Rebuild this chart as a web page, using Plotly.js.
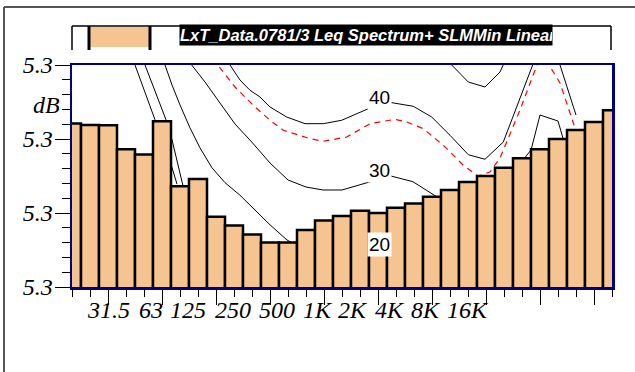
<!DOCTYPE html>
<html><head><meta charset="utf-8">
<script src="https://cdn.plot.ly/plotly-3.0.1.min.js"></script>
<style>html,body{margin:0;padding:0;background:#fff;}#chart{width:635px;height:372px;}</style>
</head><body><div id="chart"></div>
<script>
// ---- data ----
const bandIndex = [0,1,2,3,4,5,6,7,8,9,10,11,12,13,14,15,16,17,18,19,20,21,22,23,24,25,26,27,28,29,30];
const leqSpectrum = [32.1,31.9,31.85,28.6,27.9,32.4,23.6,24.6,19.5,18.3,17.1,16.0,16.0,17.7,19.0,19.6,20.3,20.0,20.7,21.3,22.2,23.1,24.2,25.0,26.1,27.4,28.6,30.0,31.2,32.3,33.9];
const freqLabels = ["31.5","63","125","250","500","1K","2K","4K","8K","16K"];
const yTickLabel = "5.3";
const legendName = "LxT_Data.0781/3 Leq Spectrum+ SLMMin Linear";
const contourLevels = [20, 30, 40];

const curveAx = [3.5,4.056,4.611,5.056,5.5,5.833];
const curveAy = [40,36.2,32.6,29.2,26.6,23.9];
const curveBx = [4.056,4.611,5.222,5.556,6.183];
const curveBy = [40,36.5,32.6,29.9,23.5];
const curve20x = [5.167,5.556,6,6.556,7.111,7.778,8.5,9.333,10.167,11,11.944,13.222,14.889];
const curve20y = [40,37.3,34.6,31.5,28.8,26.1,24.1,22.4,20.4,18.4,16.35,14.7,14.3];
const curve30x = [6.65,7.389,8.222,9.056,9.983,11,12,13,13.944,15,16.33,17.72,18.94,20.26,21.56,22.94,24.33,25.5,26,27,27.29,27.5];
const curve30y = [40,37.7,34.86,32.03,29.6,26.76,24.46,23.51,23.11,23.11,24.05,25,24.23,22.2,20.95,22.3,25,28.5,33.24,32.43,30,28.5];
const curve40x = [8.778,9.333,9.889,10.444,11,11.928,12.944,13.961,14.983,16.461,17.761,18.961,19.983,21,22.017,22.944,23.961,24.722,25.539,26.333,27.111,28];
const curve40y = [40,37.97,36.58,35.68,34.32,32.97,32.07,32.07,32.53,34.09,34.91,34.42,32.97,30.5,27.88,27.26,29.59,34.59,40,44.73,40,33.24];
const curve50x = [20.444,21.094,22.017,22.944,23.778,24.333];
const curve50y = [43.38,40,37.7,37.03,39.05,42.03];
const dashedX = [8.183,9.056,10.072,11,11.739,13.222,13.961,15.261,16.556,17.944,18.594,19.517,20.628,21.739,22.556,23.222,23.778,24.889,25.833,26.111,26.333,27.111,27.944];
const dashedY = [39.73,37.03,34.55,32.53,31.18,30.04,29.69,30.27,32.07,32.66,32.3,31.39,29.15,26.45,25,25.54,27.43,33.92,40,40.68,40.68,37.57,31.49];

// ---- layout helpers (pixel -> paper) ----
const L=72, R=612, T=65, B=287;
const px = v => (v-L)/(R-L);
const py = v => (B-v)/(B-T);
const serif = {family:'"Liberation Serif","Times New Roman",serif', size:24, color:'#000'};
const ital = s => '<i>'+s+'</i>';

const lineStyle = {color:'#000', width:1};
const traces = [
  {x:curveAx, y:curveAy},
  {x:curveBx, y:curveBy},
  {x:curve20x, y:curve20y},
  {x:curve30x, y:curve30y},
  {x:curve40x, y:curve40y},
  {x:curve50x, y:curve50y}
].map(c => ({type:'scatter', mode:'lines', x:c.x, y:c.y, line:lineStyle, hoverinfo:'skip', showlegend:false, xaxis:'x', yaxis:'y'}));
traces.push({type:'scatter', mode:'lines', x:dashedX, y:dashedY, line:{color:'#FF0000', width:1.2, dash:'6px,5px'}, showlegend:false, xaxis:'x', yaxis:'y'});
traces.push({type:'bar', x:bandIndex, y:leqSpectrum, width:1, xaxis:'x2', yaxis:'y',
  marker:{color:'#F5C491', line:{color:'#000', width:2.5}}, showlegend:false, name:legendName});

// label positions for frequency ticks (in band units)
const labelPos = [2.06,4.39,6.44,8.94,11.39,13.61,15.56,17.61,19.61,21.94];
const labelY = [15.8,25.74,35.6];

const annotations = contourLevels.map((lv,i)=>({
  x:17.06, y:labelY[i], xref:'x', yref:'y', text:String(lv), showarrow:false,
  font:{family:'"Liberation Sans",Arial,sans-serif', size:19, color:'#000'}, bgcolor:'#fff', borderpad:1
}));
annotations.push({x:px(46), y:py(104.5), xref:'paper', yref:'paper', xanchor:'center', yanchor:'middle', text:ital('dB'), showarrow:false, font:serif});
annotations.push({x:px(179), y:py(35), xref:'paper', yref:'paper', xanchor:'left', yanchor:'middle', text:'<b><i>'+legendName+'</i></b>',
  showarrow:false, bgcolor:'#000', borderpad:0, width:372, height:20, align:'left',
  font:{family:'"Liberation Sans",Arial,sans-serif', size:16.5, color:'#fff'}});

const shp = (x0,y0,x1,y1,o) => Object.assign({type:'line', xref:'paper', yref:'paper', x0:px(x0), y0:py(y0), x1:px(x1), y1:py(y1), line:{color:'#000', width:1.5}}, o||{});
const shapes = [
  shp(4,7,635,7,{line:{color:'#555',width:2}}),
  shp(4,7,4,372,{line:{color:'#555',width:2}}),
  shp(72,26,611,26),
  shp(72,26,72,50),
  shp(611,26,611,50),
  {type:'rect', xref:'paper', yref:'paper', x0:px(90), x1:px(150), y0:py(47), y1:py(27), fillcolor:'#F5C491', line:{width:0}},
  shp(89,26,89,50,{line:{color:'#000',width:3}}),
  shp(150,26,150,50,{line:{color:'#000',width:3}})
];

const layout = {
  width:635, height:372, margin:{l:L, r:635-R, t:T, b:372-B},
  paper_bgcolor:'#fff', plot_bgcolor:'#fff', showlegend:false, bargap:0,
  xaxis:{range:[0,30], showline:true, linecolor:'#000080', linewidth:2.5, mirror:true,
    ticks:'outside', tickvals:[2,5,8,11,14,17,20,23,26,29], ticklen:15, tickcolor:'#000', tickwidth:1,
    showticklabels:false, showgrid:false, zeroline:false,
    minor:{tick0:0, dtick:1, ticks:'outside', ticklen:7, tickcolor:'#000', tickwidth:1, showgrid:false}},
  xaxis2:{overlaying:'x', anchor:'y', side:'bottom', range:[0,30], tickvals:labelPos, ticktext:freqLabels.map(ital),
    ticks:'', showline:false, showgrid:false, zeroline:false, tickfont:serif, ticklabelstandoff:6},
  yaxis:{range:[10,40], showline:true, linecolor:'#000080', linewidth:2.5, mirror:true,
    ticks:'outside', tickvals:[10,20,30,40], ticktext:[10,20,30,40].map(()=>ital(yTickLabel)),
    ticklen:15, tickcolor:'#000', tickwidth:1, tickfont:serif, showgrid:false, zeroline:false, ticklabelstandoff:-3,
    minor:{dtick:2, ticks:'outside', ticklen:8, tickcolor:'#000', tickwidth:1, showgrid:false}},
  annotations:annotations, shapes:shapes
};
Plotly.newPlot('chart', traces, layout, {staticPlot:true, displayModeBar:false});
</script></body></html>
